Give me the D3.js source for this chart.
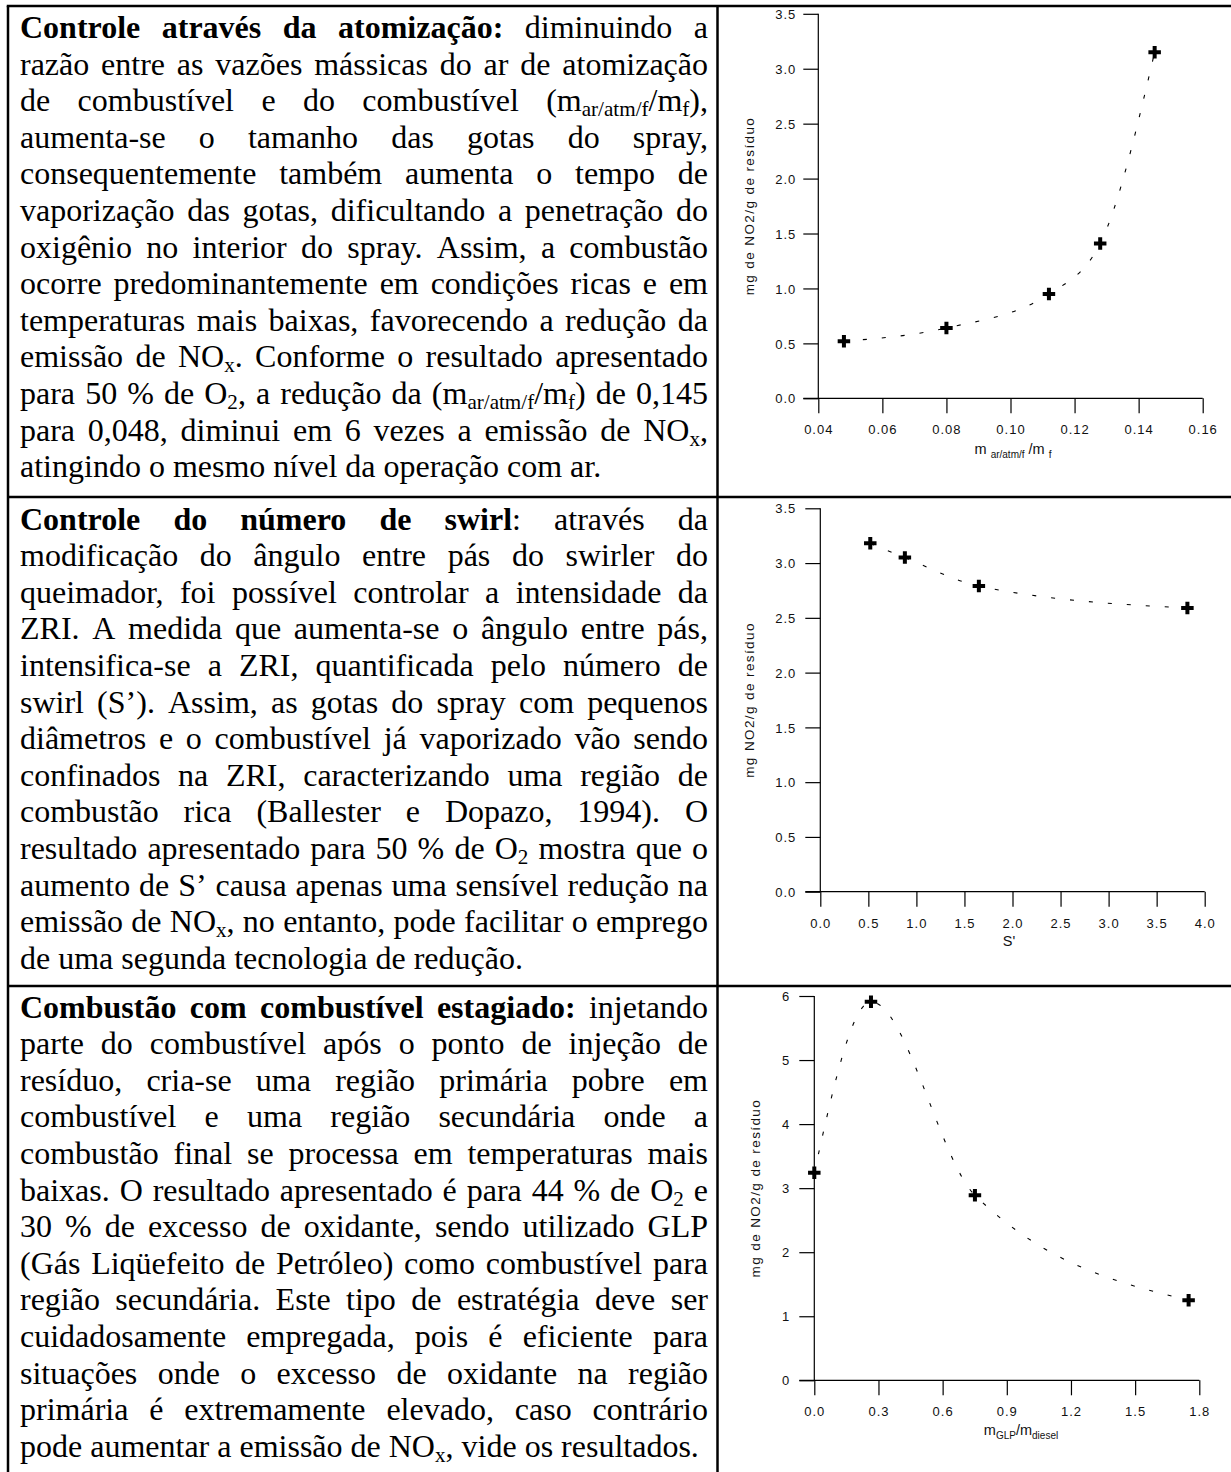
<!DOCTYPE html>
<html><head><meta charset="utf-8">
<script src="https://cdn.jsdelivr.net/npm/d3@7"></script>
<style>
body{margin:0;background:#fff;}
svg{display:block;}
</style></head><body>
<script>
// ---------------- DATA ----------------
const chart1X = [0.048, 0.080, 0.112, 0.128, 0.145];
const chart1Y = [0.52, 0.64, 0.95, 1.41, 3.15];
const chart1XTicks = [0.04, 0.06, 0.08, 0.10, 0.12, 0.14, 0.16];
const chart1YTicks = [0, 0.5, 1.0, 1.5, 2.0, 2.5, 3.0, 3.5];

const chart2X = [0.52, 0.88, 1.65, 3.82];
const chart2Y = [3.18, 3.05, 2.79, 2.59];
const chart2XTicks = [0, 0.5, 1.0, 1.5, 2.0, 2.5, 3.0, 3.5, 4.0];
const chart2YTicks = [0, 0.5, 1.0, 1.5, 2.0, 2.5, 3.0, 3.5];

const chart3X = [0.0, 0.265, 0.751, 1.75];
const chart3Y = [3.24, 5.91, 2.89, 1.25];
const chart3XTicks = [0, 0.3, 0.6, 0.9, 1.2, 1.5, 1.8];
const chart3YTicks = [0, 1, 2, 3, 4, 5, 6];

const chart1YTitle = "mg de NO2/g de resíduo";
const chart2YTitle = "mg NO2/g de resíduo";
const chart3YTitle = "mg de NO2/g de resíduo";

const para1 = [
 "**Controle através da atomização:** diminuindo a",
 "razão entre as vazões mássicas do ar de atomização",
 "de combustível e do combustível (m_{ar/atm/f}/m_{f}),",
 "aumenta-se o tamanho das gotas do spray,",
 "consequentemente também aumenta o tempo de",
 "vaporização das gotas, dificultando a penetração do",
 "oxigênio no interior do spray. Assim, a combustão",
 "ocorre predominantemente em condições ricas e em",
 "temperaturas mais baixas, favorecendo a redução da",
 "emissão de NO_{x}. Conforme o resultado apresentado",
 "para 50 % de O_{2}, a redução da (m_{ar/atm/f}/m_{f}) de 0,145",
 "para 0,048, diminui em 6 vezes a emissão de NO_{x},",
 "atingindo o mesmo nível da operação com ar."
];
const para2 = [
 "**Controle do número de swirl**: através da",
 "modificação do ângulo entre pás do swirler do",
 "queimador, foi possível controlar a intensidade da",
 "ZRI. A medida que aumenta-se o ângulo entre pás,",
 "intensifica-se a ZRI, quantificada pelo número de",
 "swirl (S’). Assim, as gotas do spray com pequenos",
 "diâmetros e o combustível já vaporizado vão sendo",
 "confinados na ZRI, caracterizando uma região de",
 "combustão rica (Ballester e Dopazo, 1994). O",
 "resultado apresentado para 50 % de O_{2} mostra que o",
 "aumento de S’ causa apenas uma sensível redução na",
 "emissão de NO_{x}, no entanto, pode facilitar o emprego",
 "de uma segunda tecnologia de redução."
];
const para3 = [
 "**Combustão com combustível estagiado:** injetando",
 "parte do combustível após o ponto de injeção de",
 "resíduo, cria-se uma região primária pobre em",
 "combustível e uma região secundária onde a",
 "combustão final se processa em temperaturas mais",
 "baixas. O resultado apresentado é para 44 % de O_{2} e",
 "30 % de excesso de oxidante, sendo utilizado GLP",
 "(Gás Liqüefeito de Petróleo) como combustível para",
 "região secundária. Este tipo de estratégia deve ser",
 "cuidadosamente empregada, pois é eficiente para",
 "situações onde o excesso de oxidante na região",
 "primária é extremamente elevado, caso contrário",
 "pode aumentar a emissão de NO_{x}, vide os resultados."
];

// ---------------- LAYOUT ----------------
const W = 1231, H = 1472;
const svg = d3.select("body").append("svg").attr("width", W).attr("height", H)
  .style("background", "#fff");

const LEFT = 8, DIV = 717.5, TOP = 6, ROW1 = 497, ROW2 = 986;
const TX0 = 20, TX1 = 708, FS = 32, LH = 36.6;
const serif = "'Liberation Serif','Times New Roman',serif";
const sans = "'Liberation Sans',Arial,sans-serif";

// table borders
const bord = svg.append("g").attr("stroke", "#000").attr("stroke-width", 2.5);
bord.append("line").attr("x1", LEFT - 1.25).attr("x2", W).attr("y1", TOP).attr("y2", TOP);
bord.append("line").attr("x1", LEFT).attr("x2", LEFT).attr("y1", TOP).attr("y2", H);
bord.append("line").attr("x1", DIV).attr("x2", DIV).attr("y1", TOP).attr("y2", H);
bord.append("line").attr("x1", LEFT).attr("x2", W).attr("y1", ROW1).attr("y2", ROW1);
bord.append("line").attr("x1", LEFT).attr("x2", W).attr("y1", ROW2).attr("y2", ROW2);

// ---------------- TEXT ----------------
function parse(str) {
  const segs = []; let bold = false, last = 0, m;
  const re = /(\*\*)|_\{([^}]*)\}/g;
  while ((m = re.exec(str))) {
    if (m.index > last) segs.push({t: str.slice(last, m.index), bold, sub: false});
    if (m[1]) bold = !bold; else segs.push({t: m[2], bold, sub: true});
    last = re.lastIndex;
  }
  if (last < str.length) segs.push({t: str.slice(last), bold, sub: false});
  const words = [[]];
  segs.forEach(s => {
    s.t.split(" ").forEach((p, k) => {
      if (k > 0) words.push([]);
      if (p) words[words.length - 1].push({t: p, bold: s.bold, sub: s.sub});
    });
  });
  return words.filter(w => w.length);
}

function drawParagraph(lines, y0) {
  const g = svg.append("g").style("font-family", serif).attr("font-size", FS).attr("fill", "#000");
  lines.forEach((ln, i) => {
    const y = y0 + i * LH;
    const words = parse(ln);
    const els = words.map(w => {
      const t = g.append("text").attr("x", 0).attr("y", y);
      let shift = 0;
      w.forEach(s => {
        const want = s.sub ? 5 : 0;
        t.append("tspan")
          .attr("dy", want - shift)
          .attr("font-size", s.sub ? FS * 0.66 : FS)
          .attr("font-weight", s.bold ? "bold" : "normal")
          .text(s.t);
        shift = want;
      });
      return t;
    });
    const widths = els.map(e => e.node().getComputedTextLength());
    const total = d3.sum(widths);
    const isLast = i === lines.length - 1;
    const gap = isLast || words.length < 2 ? FS * 0.25 : (TX1 - TX0 - total) / (words.length - 1);
    let x = TX0;
    els.forEach((e, k) => { e.attr("x", x); x += widths[k] + gap; });
  });
}
drawParagraph(para1, 38);
drawParagraph(para2, 529.5);
drawParagraph(para3, 1017.5);

// ---------------- CHARTS ----------------
function crossPath(s, t) {
  const a = s / 2, b = t / 2;
  return `M${-b},${-a}H${b}V${-b}H${a}V${b}H${b}V${a}H${-b}V${b}H${-a}V${-b}H${-b}Z`;
}

function drawChart(c) {
  const x = d3.scaleLinear().domain(c.xDomain).range([c.px0, c.px1]);
  const y = d3.scaleLinear().domain(c.yDomain).range([c.py0, c.py1]);
  const g = svg.append("g");
  const TS = 15;

  const ya = g.append("g").attr("transform", `translate(${c.px0},0)`)
    .call(d3.axisLeft(y).tickValues(c.yTicks).tickFormat(c.yFmt).tickSize(TS).tickSizeOuter(0));
  ya.select(".domain").remove();
  const xa = g.append("g").attr("transform", `translate(0,${c.py0})`)
    .call(d3.axisBottom(x).tickValues(c.xTicks).tickFormat(c.xFmt).tickSize(TS).tickSizeOuter(0));
  xa.select(".domain").remove();

  [ya, xa].forEach(a => {
    a.selectAll(".tick line").attr("stroke", "#000").attr("stroke-width", 1.2);
    a.selectAll("text").style("font-family", sans).attr("font-size", 13)
      .attr("fill", "#111").style("letter-spacing", "1px");
  });
  ya.selectAll("text").attr("x", -c.yLabelGap).attr("dy", "0.36em");
  xa.selectAll("text").attr("y", 36).attr("dy", null);

  g.append("line").attr("x1", c.px0).attr("x2", c.px0)
    .attr("y1", y(c.yDomain[1])).attr("y2", y(c.yDomain[0]))
    .attr("stroke", "#000").attr("stroke-width", 1.2);
  g.append("line").attr("x1", c.px0 - TS).attr("x2", x(c.xDomain[1]))
    .attr("y1", c.py0).attr("y2", c.py0)
    .attr("stroke", "#000").attr("stroke-width", 1.2);

  // y title
  const yc = (y(c.yDomain[0]) + y(c.yDomain[1])) / 2;
  g.append("text").attr("transform", `translate(${c.px0 - c.yTitleGap},${yc}) rotate(-90)`)
    .attr("text-anchor", "middle").style("font-family", sans).attr("font-size", 13.5)
    .style("letter-spacing", "1.4px").attr("fill", "#111").text(c.yTitle);

  // x title
  const xt = g.append("text").attr("x", c.xTitleX).attr("y", c.py0 + c.xTitleDy)
    .attr("text-anchor", "middle").style("font-family", sans).attr("font-size", 14.5).attr("fill", "#111");
  let shift = 0;
  c.xTitle.forEach(s => {
    const want = s.sub ? 3.5 : 0;
    xt.append("tspan").attr("dy", want - shift).attr("font-size", s.sub ? 10 : 14.5).text(s.t);
    shift = want;
  });

  const pts = c.xs.map((v, i) => [x(v), y(c.ys[i])]);
  g.append("path").attr("d", d3.line().curve(d3.curveMonotoneX)(pts))
    .attr("fill", "none").attr("stroke", "#000").attr("stroke-width", 1.1)
    .attr("stroke-dasharray", "4 15");
  g.selectAll("path.pt").data(pts).join("path").attr("class", "pt")
    .attr("transform", d => `translate(${d[0]},${d[1]})`)
    .attr("d", crossPath(12.5, 4)).attr("fill", "#000");
}

drawChart({
  xDomain: [0.04, 0.16], yDomain: [0, 3.5], px0: 818.3, px1: 1202.7, py0: 398.3, py1: 13.8,
  xTicks: chart1XTicks, yTicks: chart1YTicks, xFmt: d3.format(".2f"), yFmt: d3.format(".1f"),
  xs: chart1X, ys: chart1Y, yTitle: chart1YTitle, yLabelGap: 22, yTitleGap: 64,
  xTitle: [{t: "m "}, {t: "ar/atm/f", sub: true}, {t: " /m "}, {t: "f", sub: true}], xTitleX: 1013, xTitleDy: 56
});
drawChart({
  xDomain: [0, 4], yDomain: [0, 3.5], px0: 820.3, px1: 1204.7, py0: 891.7, py1: 508.3,
  xTicks: chart2XTicks, yTicks: chart2YTicks, xFmt: d3.format(".1f"), yFmt: d3.format(".1f"),
  xs: chart2X, ys: chart2Y, yTitle: chart2YTitle, yLabelGap: 24, yTitleGap: 66,
  xTitle: [{t: "S'"}], xTitleX: 1009, xTitleDy: 54
});
drawChart({
  xDomain: [0, 1.8], yDomain: [0, 6], px0: 814.3, px1: 1199.3, py0: 1380.3, py1: 996,
  xTicks: chart3XTicks, yTicks: chart3YTicks, xFmt: d3.format(".1f"), yFmt: d3.format("d"),
  xs: chart3X, ys: chart3Y, yTitle: chart3YTitle, yLabelGap: 24, yTitleGap: 54,
  xTitle: [{t: "m"}, {t: "GLP", sub: true}, {t: "/m"}, {t: "diesel", sub: true}], xTitleX: 1021, xTitleDy: 55
});
</script>
</body></html>
